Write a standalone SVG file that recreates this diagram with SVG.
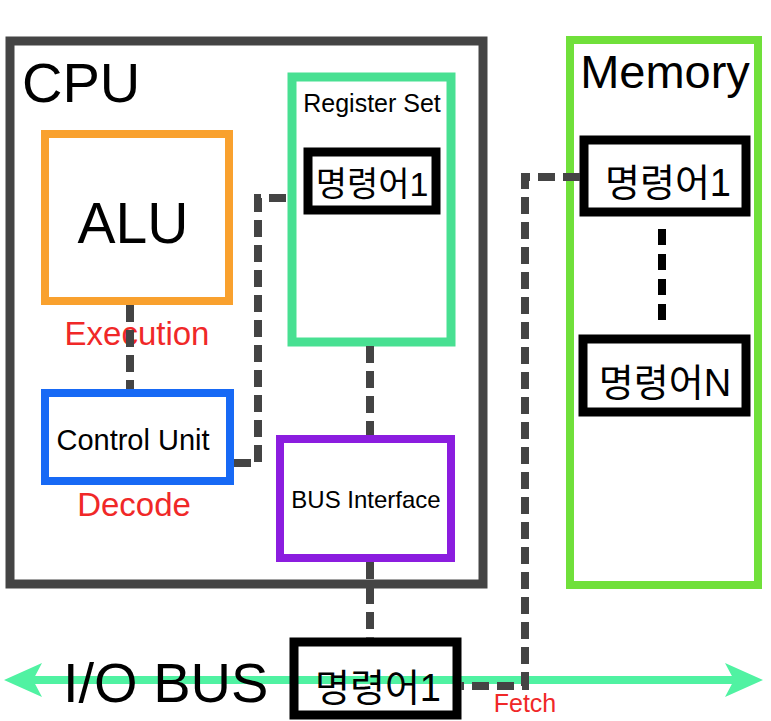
<svg xmlns="http://www.w3.org/2000/svg" width="771" height="721" viewBox="0 0 771 721">
<style>
  text{font-family:"Liberation Sans","Noto Sans CJK KR",Arial,sans-serif;fill:#000}
  .box{fill:none}
  .blk{fill:#fff;stroke:#000;stroke-width:9}
  .kr{font-size:38px;text-anchor:middle}
  .red{fill:#f02828;text-anchor:middle}
  .conn{fill:none;stroke:#444;stroke-width:8;stroke-dasharray:17 8}
  .mid{text-anchor:middle}
</style>
<rect width="771" height="721" fill="#fff"/>

<g id="io-bus">
  <line x1="20" y1="680" x2="748" y2="680" stroke="#50f2a2" stroke-width="8"/>
  <polygon points="4,680 42,663 33,680 42,697" fill="#50f2a2"/>
  <polygon points="763,680 725,663 734,680 725,697" fill="#50f2a2"/>
  <text x="63" y="702" font-size="56">I/O BUS</text>
</g>

<g id="cpu">
  <rect x="10" y="41" width="473" height="543" class="box" stroke="#444" stroke-width="9"/>
  <text x="22" y="102" font-size="56">CPU</text>
</g>

<g id="alu">
  <rect x="45" y="134" width="184" height="167" class="box" stroke="#f9a12e" stroke-width="8"/>
  <text x="133" y="243" font-size="57" class="mid">ALU</text>
  <text x="137" y="345" font-size="33" class="red">Execution</text>
</g>

<g id="control-unit">
  <rect x="45" y="393" width="185" height="88" class="box" stroke="#1769f5" stroke-width="8"/>
  <text x="133" y="450" font-size="29" class="mid">Control Unit</text>
  <text x="134" y="516" font-size="33" class="red">Decode</text>
</g>

<g id="register-set">
  <rect x="292" y="77" width="159" height="265" class="box" stroke="#48e092" stroke-width="9"/>
  <text x="372" y="112" font-size="25" class="mid">Register Set</text>
  <rect x="308" y="152" width="128" height="58" class="blk" stroke-width="8"/>
  <text x="372" y="196" font-size="34" class="mid">명령어1</text>
</g>

<g id="bus-interface">
  <rect x="280" y="439" width="171" height="119" class="box" stroke="#8b1ddf" stroke-width="8"/>
  <text x="366" y="508" font-size="24" class="mid">BUS Interface</text>
</g>

<g id="memory">
  <rect x="570" y="40" width="188" height="545" class="box" stroke="#70e03a" stroke-width="8"/>
  <text x="665" y="88" font-size="47" class="mid">Memory</text>
  <rect x="584" y="140" width="162" height="72" class="blk"/>
  <text x="668" y="196" class="kr">명령어1</text>
  <line x1="662" y1="229" x2="662" y2="322" stroke="#000" stroke-width="8" stroke-dasharray="16 9"/>
  <rect x="583" y="339" width="163" height="73" class="blk"/>
  <text x="665" y="396" class="kr">명령어N</text>
</g>

<g id="io-instruction">
  <rect x="294" y="642" width="163" height="73" class="blk" fill-opacity="0"/>
  <text x="378" y="701" class="kr">명령어1</text>
</g>

<g id="connectors">
  <line x1="130" y1="305" x2="130" y2="389" class="conn"/>
  <path d="M234 463 H258 V198 H289" class="conn"/>
  <line x1="370" y1="346" x2="370" y2="435" class="conn"/>
  <line x1="370" y1="562" x2="370" y2="638" class="conn"/>
  <path d="M580 177 H525 V686 H461" class="conn"/>
  <text x="525" y="712" font-size="25" class="red">Fetch</text>
</g>
</svg>
